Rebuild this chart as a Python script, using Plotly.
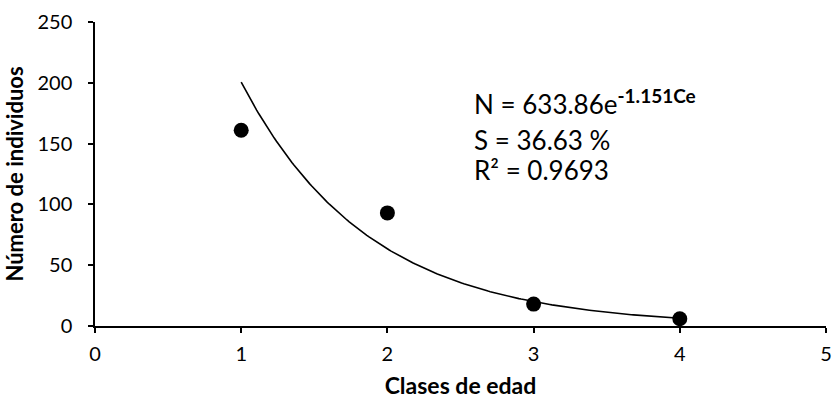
import numpy as np
import plotly.graph_objects as go

# Observed number of individuals per age class
age_class = [1, 2, 3, 4]
individuals = [161, 93, 18, 6]

# Exponential fit N = a * exp(b * Ce)
fit_a = 633.86
fit_b = -1.151
survival_pct = 36.63
r_squared = 0.9693

x_ticks = [0, 1, 2, 3, 4, 5]
y_ticks = [0, 50, 100, 150, 200, 250]

font_family = "Lato, 'Open Sans', sans-serif"

ce = np.linspace(min(age_class), max(age_class), 200)
n_fit = fit_a * np.exp(fit_b * ce)

fig = go.Figure()
fig.add_trace(go.Scatter(
    x=ce, y=n_fit, mode="lines",
    line=dict(color="black", width=1.6),
    hoverinfo="skip", showlegend=False,
))
fig.add_trace(go.Scatter(
    x=age_class, y=individuals, mode="markers",
    marker=dict(color="black", size=15),
    showlegend=False,
))

text_x = 2.58
lines = [
    (184, f"N = {fit_a:.2f}e<sup><b><span style='font-size:19px'>{fit_b:.3f}Ce</span></b></sup>"),
    (153, f"S = {survival_pct:.2f} %"),
    (128, f"R² = {r_squared:.4f}"),
]
for y, txt in lines:
    fig.add_annotation(
        x=text_x, y=y, xref="x", yref="y", text=txt,
        showarrow=False, xanchor="left", yanchor="middle",
        font=dict(family=font_family, size=26, color="black"),
    )

axis_common = dict(
    showgrid=False, zeroline=False, showline=True, automargin=False,
    linecolor="black", linewidth=1.5,
    ticks="outside", ticklen=5, tickwidth=1.5, tickcolor="black",
    tickfont=dict(family=font_family, size=20, color="black"),
)

fig.update_layout(
    width=833, height=400,
    margin=dict(l=95, r=7, t=22, b=74),
    paper_bgcolor="white", plot_bgcolor="white",
    xaxis=dict(
        range=[0, 5], tickvals=x_ticks, ticklabelstandoff=4,
        title=dict(text="<b>Clases de edad</b>", standoff=14,
                   font=dict(family=font_family, size=23, color="black")),
        **axis_common,
    ),
    yaxis=dict(
        range=[0, 250], tickvals=y_ticks, ticklabelstandoff=12,
        title=dict(text="<b>Número de individuos</b>", standoff=8,
                   font=dict(family=font_family, size=22, color="black")),
        **axis_common,
    ),
)

fig.write_html("out.html")
